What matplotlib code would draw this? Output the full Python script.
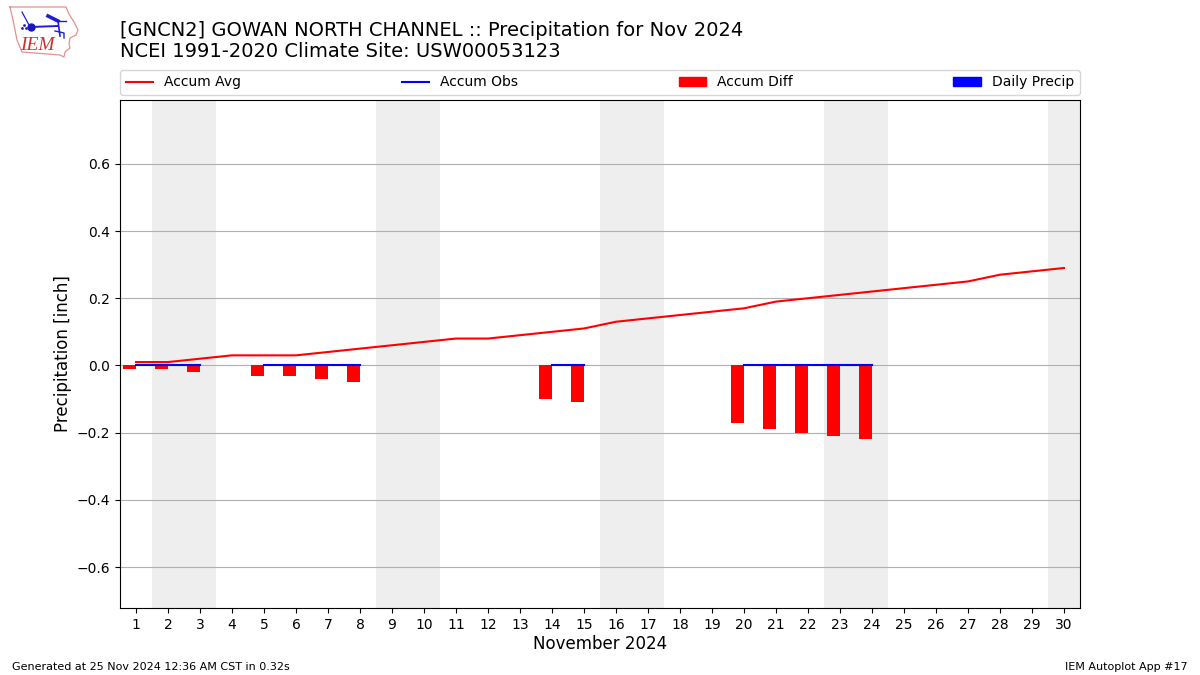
import matplotlib
matplotlib.use("Agg")
import matplotlib.pyplot as plt
from matplotlib.patches import Patch
import numpy as np

days = np.arange(1, 31)
accum_avg = [0.01, 0.01, 0.02, 0.03, 0.03, 0.03, 0.04, 0.05, 0.06, 0.07,
             0.08, 0.08, 0.09, 0.10, 0.11, 0.13, 0.14, 0.15, 0.16, 0.17,
             0.19, 0.20, 0.21, 0.22, 0.23, 0.24, 0.25, 0.27, 0.28, 0.29]
nan = np.nan
accum_obs = [0, 0, 0, nan, 0, 0, 0, 0, nan, nan,
             nan, nan, nan, 0, 0, nan, nan, nan, nan, 0,
             0, 0, 0, 0, nan, nan, nan, nan, nan, nan]
accum_diff = [-0.01, -0.01, -0.02, 0, -0.03, -0.03, -0.04, -0.05, 0, 0,
              0, 0, 0, -0.10, -0.11, 0, 0, 0, 0, -0.17,
              -0.19, -0.20, -0.21, -0.22, 0, 0, 0, 0, 0, 0]
weekends = [(2, 3), (9, 10), (16, 17), (23, 24), (30, 30)]

fig = plt.figure(figsize=(12, 6.75), dpi=100)
ax = fig.add_axes([120 / 1200, 1 - 608 / 675, 960 / 1200, 508 / 675])

for a, b in weekends:
    ax.axvspan(a - 0.5, b + 0.5, color="#eeeeee", lw=0, zorder=0)
ax.bar(days, accum_diff, width=-0.4, align="edge", color="r", zorder=2)
line1, = ax.plot(days, accum_avg, color="r", lw=1.5, zorder=3)
line2, = ax.plot(days, accum_obs, color="b", lw=1.5, zorder=3)

ax.set_xlim(0.5, 30.5)
ax.set_ylim(-0.722, 0.79)
ax.set_xticks(days)
ax.set_yticks([-0.6, -0.4, -0.2, 0, 0.2, 0.4, 0.6])
ax.grid(axis="y", zorder=1)
ax.set_axisbelow(True)
ax.set_xlabel("November 2024", fontsize=12, labelpad=2.5)
ax.set_ylabel("Precipitation [inch]", fontsize=12, labelpad=3.3)

handles = [line1, line2, Patch(color="r"), Patch(color="b")]
labels = ["Accum Avg", "Accum Obs", "Accum Diff", "Daily Precip"]
ax.legend(handles, labels, ncol=4, mode="expand", loc="lower left",
          bbox_to_anchor=(0, 1.0098, 1, 0.05), borderaxespad=0, fontsize=10)

fig.text(120 / 1200, 1 - 61 / 675, "[GNCN2] GOWAN NORTH CHANNEL :: Precipitation for Nov 2024\n"
         "NCEI 1991-2020 Climate Site: USW00053123", fontsize=14, va="bottom", ha="left",
         linespacing=1.12)
fig.text(12 / 1200, 1 - 670 / 675, "Generated at 25 Nov 2024 12:36 AM CST in 0.32s", fontsize=8)
fig.text(1188 / 1200, 1 - 670 / 675, "IEM Autoplot App #17", fontsize=8, ha="right")

# logo, pixel coords of the figure
logo = fig.add_axes([0, 1 - 62 / 675, 85 / 1200, 62 / 675])
logo.set_xlim(0, 85)
logo.set_ylim(62, 0)
logo.axis("off")
outline_x = [10, 66, 69, 74, 78, 76, 70, 69, 70, 65, 64, 60, 22, 17, 13, 10]
outline_y = [7, 7, 14, 22, 30, 35, 38, 44, 48, 52, 57, 55, 52, 40, 20, 7]
logo.plot(outline_x, outline_y, color="#e49090", lw=0.9)
logo.plot([31, 58], [27, 26], color="#2020d0", lw=1.4)
logo.plot([31], [27], "o", color="#1818c0", ms=5)
logo.plot([48, 58], [16, 21], color="#2020d0", lw=2.6)
logo.plot([58, 66], [21, 21], color="#2020d0", lw=1)
logo.plot([58, 60], [21, 36], color="#2020d0", lw=1.2)
logo.plot([55, 64, 64], [31, 33, 38], color="#2020d0", lw=1)
logo.plot([22, 29], [12, 25], color="#2020d0", lw=0.9)
logo.plot([24, 26, 22], [25, 28, 28], ".", color="#2020d0", ms=2)
logo.text(37.5, 45, "IEM", color="#d03030", family="Liberation Serif", style="italic",
          fontsize=14, ha="center", va="center")

fig.savefig("out.png", dpi=100)
